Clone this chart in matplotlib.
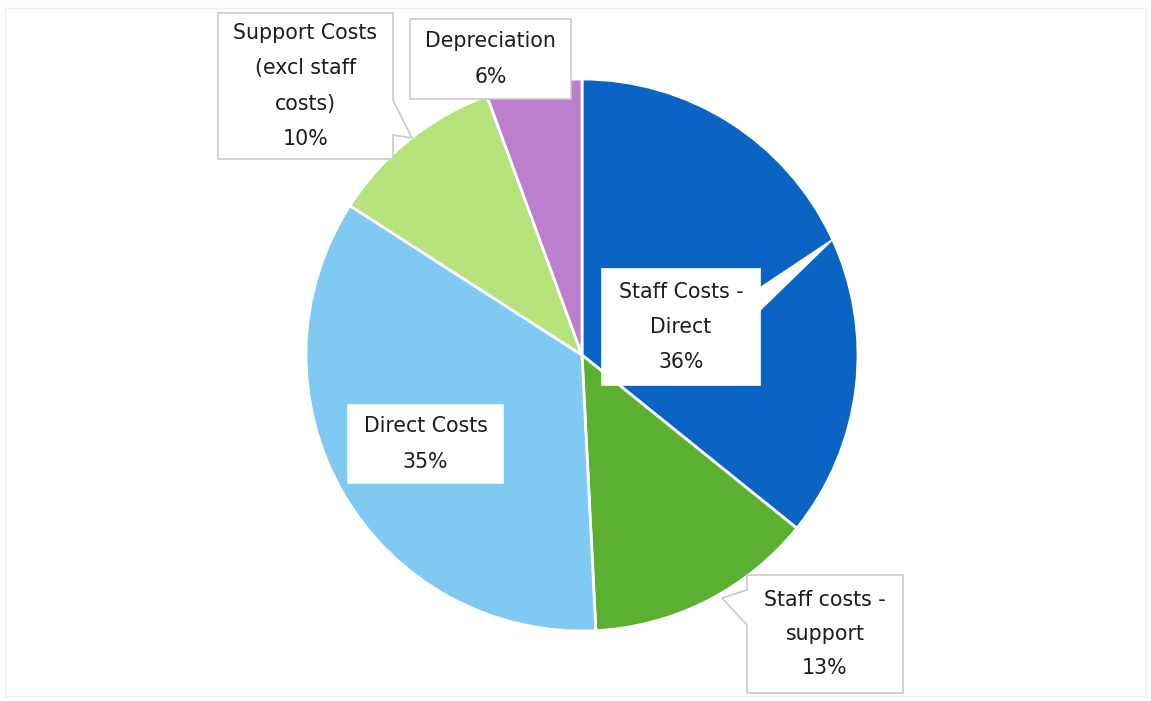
import matplotlib
matplotlib.use("Agg")
import matplotlib.pyplot as plt
from matplotlib.patches import Polygon, Rectangle

categories = ["Staff Costs -\nDirect", "Staff costs -\nsupport", "Direct Costs",
              "Support Costs\n(excl staff\ncosts)", "Depreciation"]
values = [35.8, 13.4, 34.9, 10.3, 5.6]
colors = ["#0b63c3", "#5cb031", "#7fc9f3", "#b6e27c", "#bb7fcd"]

W, H = 1151, 701
fig = plt.figure(figsize=(W / 100, H / 100), dpi=100)
ax = fig.add_axes([0, 0, 1, 1])

def Y(py):
    return H - py

cx, cy, r = 582, 355, 276
ax.pie(values, colors=colors, startangle=90, counterclock=False,
       center=(cx, Y(cy)), radius=r, frame=True,
       wedgeprops=dict(edgecolor="white", linewidth=2))
ax.set_xlim(0, W)
ax.set_ylim(0, H)
ax.axis("off")

# faint chart border
ax.add_patch(Rectangle((5, Y(696)), W - 10, 688, fill=False,
                       edgecolor="#efefef", linewidth=1))

# callout boxes (pixel coords: left, top, right, bottom, pointer)
boxes = [
    dict(box=(602, 269, 760, 385), ptr=("right", 288, 310, (832, 240)), edge=False, ls=1.95),
    dict(box=(747, 575, 903, 693), ptr=("left", 590, 625, (722, 598)), edge=True, ls=1.85),
    dict(box=(348, 405, 503, 483), ptr=None, edge=False, ls=1.95),
    dict(box=(218, 13, 393, 159), ptr=("right", 100, 135, (412, 138)), edge=True, ls=1.95),
    dict(box=(410, 19, 571, 99), ptr=None, edge=True, ls=1.95),
]

for i, b in enumerate(boxes):
    l, t, rr, bt = b["box"]
    if b["ptr"] is None:
        pts = [(l, t), (rr, t), (rr, bt), (l, bt)]
    else:
        side, y1, y2, tip = b["ptr"]
        if side == "right":
            pts = [(l, t), (rr, t), (rr, y1), tip, (rr, y2), (rr, bt), (l, bt)]
        else:
            pts = [(l, t), (rr, t), (rr, bt), (l, bt), (l, y2), tip, (l, y1)]
    pts = [(x, Y(y)) for x, y in pts]
    ax.add_patch(Polygon(pts, closed=True, facecolor="white",
                         edgecolor="#c9c9c9" if b["edge"] else "white",
                         linewidth=1.2, zorder=5))
    pct = f"{values[i]:.0f}%"
    ax.text((l + rr) / 2, Y((t + bt) / 2), f"{categories[i]}\n{pct}",
            ha="center", va="center", fontsize=14.8, color="#1c1c1c",
            linespacing=b["ls"], family="DejaVu Sans", zorder=6)

fig.savefig("out.png", dpi=100, facecolor="white")
